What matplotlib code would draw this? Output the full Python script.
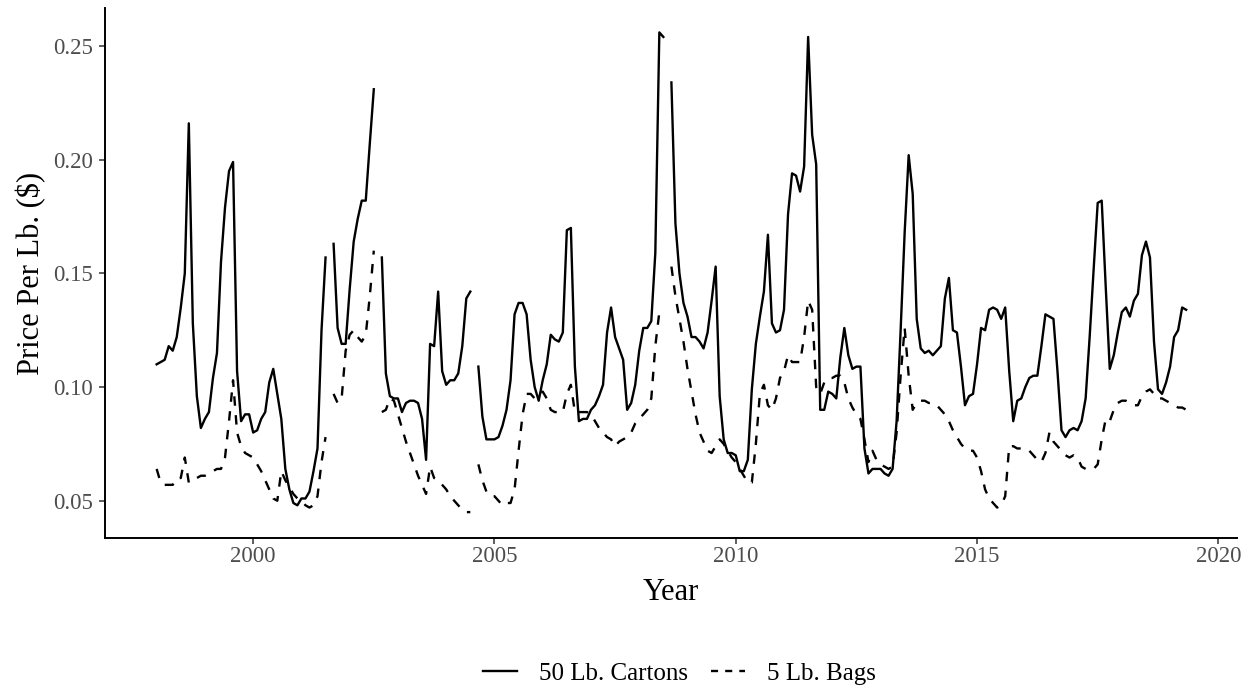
import numpy as np
import matplotlib
matplotlib.use("Agg")
import matplotlib.pyplot as plt

nan = np.nan

# monthly prices, Jan 1998 .. May 2019 (nan = missing month)
start_year = 1998
cartons_50lb = [
    0.110, 0.111, 0.112, 0.118, 0.116, 0.122, 0.135, 0.150, 0.216, 0.128, 0.096, 0.082,
    0.086, 0.089, 0.104, 0.115, 0.155, 0.179, 0.195, 0.199, 0.107, 0.085, 0.088, 0.088,
    0.080, 0.081, 0.086, 0.089, 0.102, 0.108, 0.097, 0.086, 0.064, 0.055, 0.049, 0.048,
    0.051, 0.051, 0.054, 0.063, 0.073, 0.125, 0.157, nan, 0.163, 0.126, 0.119, 0.119,
    0.143, 0.164, 0.174, 0.182, 0.182, 0.207, 0.231, nan, 0.157, 0.106, 0.096, 0.095,
    0.095, 0.089, 0.093, 0.094, 0.094, 0.093, 0.086, 0.068, 0.119, 0.118, 0.142, 0.107,
    0.101, 0.103, 0.103, 0.106, 0.118, 0.139, 0.142, nan, 0.109, 0.087, 0.077, 0.077,
    0.077, 0.078, 0.083, 0.090, 0.103, 0.132, 0.137, 0.137, 0.132, 0.112, 0.100, 0.094,
    0.103, 0.110, 0.123, 0.121, 0.120, 0.124, 0.169, 0.170, 0.109, 0.085, 0.086, 0.086,
    0.090, 0.092, 0.096, 0.101, 0.124, 0.135, 0.122, 0.117, 0.112, 0.090, 0.093, 0.101,
    0.116, 0.126, 0.126, 0.129, 0.159, 0.256, 0.254, nan, 0.234, 0.172, 0.150, 0.137,
    0.131, 0.122, 0.122, 0.120, 0.117, 0.124, 0.138, 0.153, 0.096, 0.077, 0.071, 0.071,
    0.070, 0.063, 0.063, 0.068, 0.099, 0.119, 0.131, 0.142, 0.167, 0.128, 0.124, 0.125,
    0.134, 0.176, 0.194, 0.193, 0.186, 0.197, 0.254, 0.211, 0.198, 0.090, 0.090, 0.098,
    0.097, 0.095, 0.113, 0.126, 0.114, 0.108, 0.109, 0.109, 0.073, 0.062, 0.064, 0.064,
    0.064, 0.062, 0.061, 0.064, 0.085, 0.125, 0.168, 0.202, 0.185, 0.130, 0.117, 0.115,
    0.116, 0.114, 0.116, 0.118, 0.139, 0.148, 0.125, 0.124, 0.109, 0.092, 0.096, 0.097,
    0.110, 0.126, 0.125, 0.134, 0.135, 0.134, 0.130, 0.135, 0.107, 0.085, 0.094, 0.095,
    0.100, 0.104, 0.105, 0.105, 0.118, 0.132, 0.131, 0.130, 0.107, 0.081, 0.078, 0.081,
    0.082, 0.081, 0.085, 0.095, 0.122, 0.152, 0.181, 0.182, 0.144, 0.108, 0.114, 0.124,
    0.133, 0.135, 0.131, 0.138, 0.141, 0.158, 0.164, 0.157, 0.120, 0.099, 0.097, 0.102,
    0.109, 0.122, 0.125, 0.135, 0.134,
]
bags_5lb = [
    0.064, 0.058, 0.057, 0.057, 0.057, 0.060, 0.060, 0.069, 0.058, 0.059, 0.060, 0.061,
    0.061, 0.062, 0.063, 0.064, 0.064, 0.069, 0.085, 0.103, 0.080, 0.074, 0.071, 0.070,
    0.069, 0.066, 0.063, 0.059, 0.055, 0.051, 0.050, 0.063, 0.059, 0.056, 0.053, 0.051,
    0.050, 0.048, 0.047, 0.048, 0.052, 0.067, 0.078, nan, 0.097, 0.093, 0.095, 0.116,
    0.123, 0.125, 0.122, 0.120, 0.123, 0.140, 0.160, nan, 0.089, 0.090, 0.095, 0.094,
    0.088, 0.082, 0.076, 0.071, 0.066, 0.061, 0.057, 0.053, 0.065, 0.060, 0.059, 0.057,
    0.055, 0.052, 0.050, 0.048, 0.046, 0.045, 0.045, nan, 0.066, 0.059, 0.054, 0.052,
    0.052, 0.050, 0.048, 0.049, 0.049, 0.055, 0.072, 0.088, 0.097, 0.097, 0.095, 0.097,
    0.098, 0.095, 0.090, 0.089, 0.089, 0.089, 0.097, 0.101, 0.089, 0.089, 0.089, 0.089,
    0.088, 0.085, 0.082, 0.080, 0.078, 0.077, 0.074, 0.076, 0.077, 0.078, 0.080, 0.084,
    0.086, 0.088, 0.090, 0.095, 0.118, 0.133, 0.134, nan, 0.153, 0.140, 0.130, 0.120,
    0.108, 0.098, 0.088, 0.080, 0.076, 0.072, 0.071, 0.074, 0.077, 0.075, 0.072, 0.069,
    0.067, 0.064, 0.061, 0.058, 0.058, 0.075, 0.097, 0.101, 0.092, 0.090, 0.095, 0.104,
    0.107, 0.114, 0.111, 0.111, 0.111, 0.122, 0.138, 0.134, 0.100, 0.097, 0.102, 0.104,
    0.104, 0.105, 0.105, 0.102, 0.095, 0.091, 0.088, 0.086, 0.077, 0.067, 0.072, 0.068,
    0.066, 0.065, 0.064, 0.065, 0.080, 0.105, 0.126, 0.105, 0.090, 0.093, 0.094, 0.094,
    0.093, 0.093, 0.092, 0.090, 0.088, 0.085, 0.081, 0.078, 0.075, 0.073, 0.072, 0.072,
    0.069, 0.063, 0.055, 0.051, 0.049, 0.047, 0.048, 0.052, 0.074, 0.074, 0.073, 0.073,
    0.073, 0.072, 0.070, 0.068, 0.067, 0.071, 0.080, 0.076, 0.074, 0.072, 0.070, 0.069,
    0.070, 0.069, 0.065, 0.064, 0.064, 0.064, 0.066, 0.077, 0.086, 0.085, 0.090, 0.093,
    0.094, 0.094, 0.093, 0.092, 0.092, 0.096, 0.098, 0.099, 0.097, 0.095, 0.095, 0.094,
    0.093, 0.092, 0.091, 0.091, 0.090,
]
x_ticks = [2000, 2005, 2010, 2015, 2020]
y_ticks = [0.05, 0.10, 0.15, 0.20, 0.25]

plt.rcParams['font.family'] = ['Liberation Serif', 'DejaVu Serif']

years = start_year + np.arange(len(cartons_50lb)) / 12

fig = plt.figure(figsize=(12.56, 6.92), dpi=100)
ax = fig.add_axes([0.0836, 0.2225, 0.9014, 0.7655])

ax.plot(years, cartons_50lb, color='black', lw=1.7, label='50 Lb. Cartons')
ax.plot(years, bags_5lb, color='black', lw=1.7, dashes=(4, 4), label='5 Lb. Bags')

ax.set_xlim(1996.93, 2020.39)
ax.set_ylim(0.0336, 0.2666)
ax.set_xticks(x_ticks)
ax.set_yticks(y_ticks)
ax.set_yticklabels([f"{v:.2f}" for v in y_ticks])

for s in ['top', 'right']:
    ax.spines[s].set_visible(False)
for s in ['left', 'bottom']:
    ax.spines[s].set_linewidth(1.4)
ax.tick_params(axis='both', length=4, width=1.1, color='#333333',
               labelcolor='#4d4d4d', labelsize=16.5)
ax.tick_params(axis='x', pad=2)
ax.tick_params(axis='y', pad=5)

ax.set_xlabel('Year', fontsize=22)
ax.xaxis.set_label_coords(0.5, -0.075)
ax.set_ylabel(r'Price Per Lb. (\$)', fontsize=22)
ax.yaxis.set_label_coords(-0.052, 0.5)

leg = fig.legend(loc='center', bbox_to_anchor=(0.541, 0.027), ncol=2, frameon=False,
                 fontsize=18, handlelength=1.35, columnspacing=0.9, handletextpad=0.9)
leg.get_lines()[1].set_dashes((3, 3))

fig.savefig('out.png', dpi=100)
